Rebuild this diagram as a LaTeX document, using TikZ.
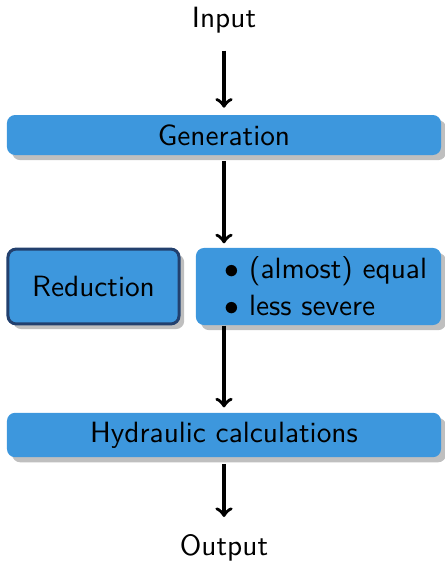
\documentclass[tikz,border=0pt]{standalone}
\usepackage{tikz}
\usetikzlibrary{arrows,shadows}

\definecolor{boxblue}{HTML}{3D97DD}
\definecolor{darkedge}{HTML}{22406E}

\tikzset{
    box/.style={fill=boxblue, rounded corners=3pt, font=\fontsize{10.85}{13}\sffamily,
        drop shadow={opacity=1, fill=black!25, shadow xshift=1.9pt, shadow yshift=-1.9pt}},
    redbox/.style={box, draw=darkedge, line width=1.1pt},
    label/.style={font=\fontsize{10.85}{13}\sffamily},
    flow/.style={-to, line width=1.3pt}
}

\begin{document}
\begin{tikzpicture}[x=0.37pt, y=-0.37pt]
        \useasboundingbox (0, 0) rectangle (445, 563);
        \node [label] (input) at (224, 20) {Input};
        \node [box, minimum width=160.6pt, minimum height=14.8pt] (gen) at (224, 135) {Generation};
        \node [redbox, minimum width=63.3pt, minimum height=27.7pt] (red) at (93.5, 286.5) {Reduction};
        \node [box, minimum width=90.7pt, minimum height=28.5pt, align=left,
            font=\fontsize{10.85}{13.6}\sffamily] (items) at (318.5, 286.5)
            {\hspace*{5.4pt}$\bullet$ (almost) equal\\ \hspace*{5.4pt}$\bullet$ less severe};
        \node [box, minimum width=160.6pt, minimum height=14.8pt] (hyd) at (224, 435) {Hydraulic calculations};
        \node [label] (output) at (224, 548) {Output};
        % connections
        \draw [flow, shorten <=3pt, shorten >=2.5pt] (input) -- (gen);
        \draw [flow, shorten <=2pt, shorten >=1.5pt] (gen.south) -- (gen.south |- items.north);
        \draw [flow, shorten >=1.8pt] (items.south -| gen.south) -- (hyd.north);
        \draw [flow, shorten <=2.5pt, shorten >=3pt] (hyd.south) -- (output);
    \end{tikzpicture}
\end{document}
